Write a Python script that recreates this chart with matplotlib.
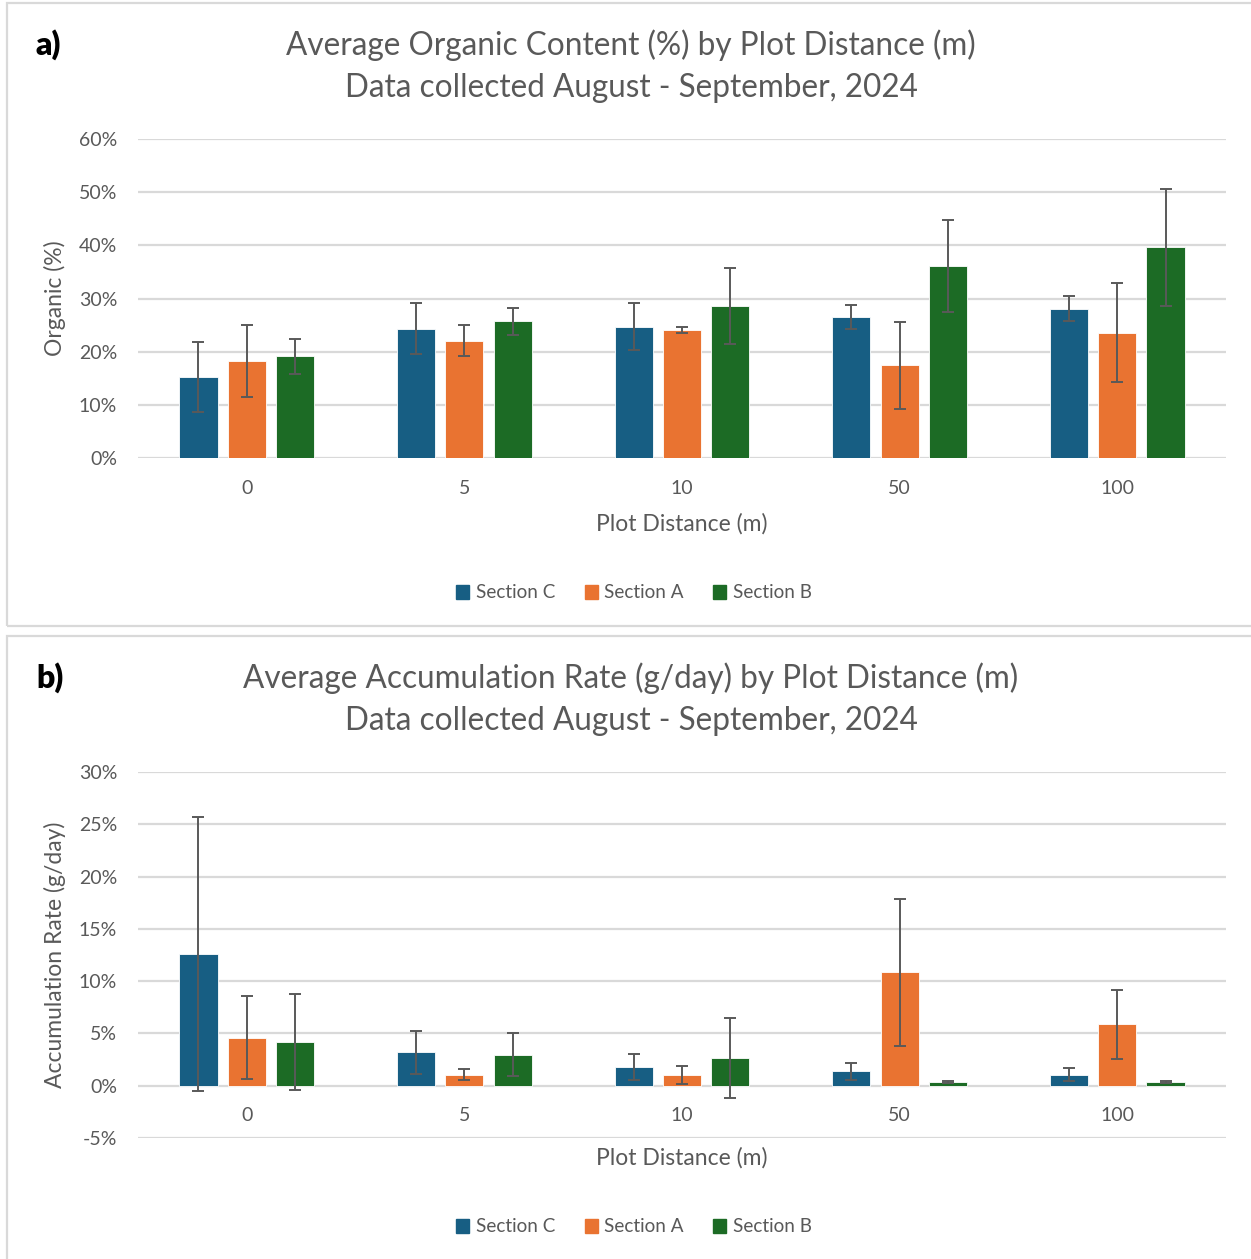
import matplotlib
matplotlib.use("Agg")
import matplotlib.pyplot as plt
from matplotlib.patches import Rectangle
from matplotlib.ticker import PercentFormatter, FixedLocator
from matplotlib.transforms import offset_copy
import numpy as np

plt.rcParams["axes.unicode_minus"] = False

# ---- data ----
distances = ["0", "5", "10", "50", "100"]
sections = ["Section C", "Section A", "Section B"]

organic_c = [0.153, 0.243, 0.247, 0.265, 0.281]
organic_a = [0.182, 0.221, 0.241, 0.174, 0.236]
organic_b = [0.191, 0.257, 0.286, 0.361, 0.396]
organic_c_err = [0.066, 0.048, 0.044, 0.022, 0.023]
organic_a_err = [0.068, 0.029, 0.006, 0.081, 0.093]
organic_b_err = [0.033, 0.025, 0.071, 0.087, 0.110]

accum_c = [0.1255, 0.032, 0.018, 0.0137, 0.0105]
accum_a = [0.046, 0.0105, 0.010, 0.1083, 0.0586]
accum_b = [0.042, 0.0296, 0.0264, 0.0032, 0.0032]
accum_c_err = [0.131, 0.0205, 0.0125, 0.0083, 0.006]
accum_a_err = [0.040, 0.0055, 0.0085, 0.0705, 0.033]
accum_b_err = [0.046, 0.0207, 0.0382, 0.001, 0.001]

colors = ["#175E83", "#E97331", "#1C6B25"]
grey = "#595959"
grid_grey = "#D9D9D9"
font = "Lato"

W, H = 1251, 1259
fig = plt.figure(figsize=(W / 100, H / 100), dpi=100)
fig.patch.set_facecolor("white")


def fx(px):
    return px / W


def fy(py):
    return 1 - py / H


# panel frames
fig.add_artist(Rectangle((fx(7), fy(626)), fx(1260) - fx(7), fy(3) - fy(626),
                         transform=fig.transFigure, fill=False,
                         edgecolor=grid_grey, lw=1.6))
fig.add_artist(Rectangle((fx(7), fy(1270)), fx(1260) - fx(7), fy(636) - fy(1270),
                         transform=fig.transFigure, fill=False,
                         edgecolor=grid_grey, lw=1.6))


def panel(top_px, bottom_px, series, errors, yticks, title1, title2,
          ylabel, tag, xlabel_y, legend_y, title_y):
    ax = fig.add_axes([fx(138), fy(bottom_px), fx(1226) - fx(138),
                       fy(top_px) - fy(bottom_px)])
    x = np.arange(len(distances))
    width = 0.175
    step = 0.222
    for k, (vals, errs) in enumerate(zip(series, errors)):
        ax.bar(x + (k - 1) * step, vals, width, color=colors[k],
               edgecolor="white", linewidth=0.6, zorder=3,
               label=sections[k])
        ax.errorbar(x + (k - 1) * step, vals, yerr=errs, fmt="none",
                    ecolor=grey, elinewidth=1.4, capsize=4.2,
                    capthick=1.4, zorder=4)
    ax.set_xlim(-0.5, len(distances) - 0.5)
    ax.set_ylim(yticks[0], yticks[-1])
    ax.yaxis.set_major_locator(FixedLocator(yticks))
    ax.yaxis.set_major_formatter(PercentFormatter(1.0, decimals=0))
    ax.grid(axis="y", color=grid_grey, lw=1.6, zorder=0)
    ax.set_axisbelow(True)
    for s in ax.spines.values():
        s.set_visible(False)
    ax.set_xticks([])
    ax.tick_params(axis="y", length=0, pad=15, labelcolor=grey,
                   labelsize=14)
    for lab in ax.get_yticklabels():
        lab.set_fontfamily(font)
    # category labels sit just below the zero line
    tr = offset_copy(ax.transData, fig=fig, x=0, y=-30, units="dots")
    for i, d in enumerate(distances):
        ax.text(i, 0, d, transform=tr, ha="center", va="center",
                fontsize=14, color=grey, family=font)

    fig.text(fx(631), fy(title_y), title1, ha="center", va="center",
             fontsize=22.7, color=grey, family=font)
    fig.text(fx(631), fy(title_y + 43), title2, ha="center", va="center",
             fontsize=22.7, color=grey, family=font)
    fig.text(fx(36), fy(title_y), tag, ha="left", va="center",
             fontsize=23, color="black", family=font, weight="heavy")
    fig.text(fx(682), fy(xlabel_y), "Plot Distance (m)", ha="center",
             va="center", fontsize=16.5, color=grey, family=font)
    fig.text(fx(55), fy((top_px + bottom_px) / 2), ylabel, ha="center",
             va="center", rotation=90, fontsize=16.5, color=grey, family=font)
    handles = [Rectangle((0, 0), 1, 1, color=c) for c in colors]
    fig.legend(handles, sections, loc="center",
               bbox_to_anchor=(fx(634), fy(legend_y)), ncol=3,
               frameon=False, handlelength=0.7, handleheight=0.7,
               handletextpad=0.35, columnspacing=1.55,
               prop={"family": font, "size": 13.6}, labelcolor=grey)
    return ax


panel(139, 458, [organic_c, organic_a, organic_b],
      [organic_c_err, organic_a_err, organic_b_err],
      [0, 0.1, 0.2, 0.3, 0.4, 0.5, 0.6],
      "Average Organic Content (%) by Plot Distance (m)",
      "Data collected August - September, 2024",
      "Organic (%)", "a)", 524, 593, 45)

panel(772, 1138, [accum_c, accum_a, accum_b],
      [accum_c_err, accum_a_err, accum_b_err],
      [-0.05, 0, 0.05, 0.10, 0.15, 0.20, 0.25, 0.30],
      "Average Accumulation Rate (g/day) by Plot Distance (m)",
      "Data collected August - September, 2024",
      "Accumulation Rate (g/day)", "b)", 1158, 1227, 678)

fig.savefig("out.png", dpi=100, facecolor="white")
